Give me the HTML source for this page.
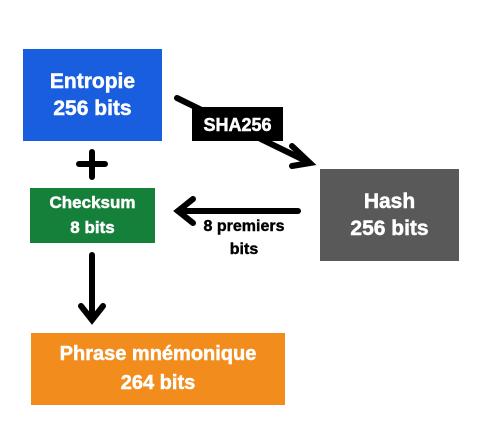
<!DOCTYPE html>
<html><head><style>
body{margin:0;width:487px;height:448px;background:#fff;position:relative;overflow:hidden;font-family:"Liberation Sans",sans-serif;font-weight:bold;color:#fff}
.b{position:absolute;display:flex;flex-direction:column;align-items:center;justify-content:center;text-align:center;line-height:1.3;-webkit-text-stroke:0.5px #fff}
</style></head><body>
<div class="b" style="left:23px;top:49px;width:139px;height:92px;background:#1a5ee0;font-size:21px">Entropie<br>256 bits</div>
<div class="b" style="left:30px;top:188px;width:125px;height:55px;background:#15803a;font-size:17px;line-height:1.45">Checksum<br>8 bits</div>
<div class="b" style="left:320px;top:169px;width:139px;height:92px;background:#595959;font-size:21px">Hash<br>256 bits</div>
<div class="b" style="left:31px;top:333px;width:254px;height:72px;background:#f28c1c;font-size:20px;line-height:1.45">Phrase mnémonique<br>264 bits</div>
<svg width="487" height="448" style="position:absolute;left:0;top:0">
<g stroke="#000" stroke-width="6" stroke-linecap="round" fill="none">
<line x1="177" y1="98" x2="308" y2="162"/>
<polyline points="292,146 310,163 292,166"/>
<line x1="298" y1="211" x2="178" y2="211"/>
<polyline points="193,199 178,211 193,223"/>
<line x1="92" y1="255" x2="92" y2="318"/>
<polyline points="81,306 92,320 103,306"/>
<line x1="92" y1="152" x2="92" y2="177"/>
<line x1="79" y1="164" x2="105" y2="164"/>
</g>
<rect x="192" y="107" width="91" height="34" fill="#000"/>
<text x="237.5" y="131" fill="#fff" stroke="#fff" stroke-width="0.5" font-size="18" font-weight="bold" text-anchor="middle" font-family="Liberation Sans">SHA256</text>
<text x="244" y="231" fill="#000" stroke="#000" stroke-width="0.4" font-size="16" font-weight="bold" text-anchor="middle" font-family="Liberation Sans">8 premiers</text>
<text x="244" y="254" fill="#000" stroke="#000" stroke-width="0.4" font-size="16" font-weight="bold" text-anchor="middle" font-family="Liberation Sans">bits</text>
</svg>
</body></html>
